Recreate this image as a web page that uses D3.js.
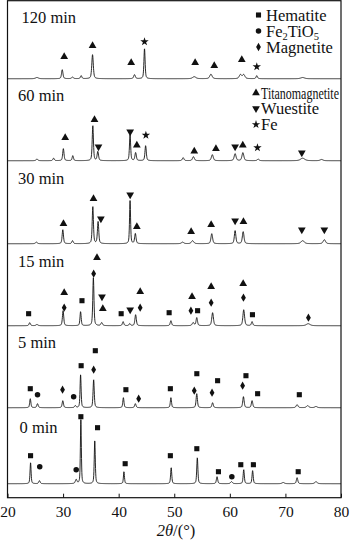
<!DOCTYPE html>
<html><head><meta charset="utf-8">
<script src="https://cdn.jsdelivr.net/npm/d3@7/dist/d3.min.js"></script>
<style>html,body{margin:0;padding:0;background:#fff;}text{font-family:"Liberation Serif","DejaVu Serif",serif;}</style>
</head><body><svg id="c" width="350" height="541" style="display:block"></svg>
<script>
// ---------- data (2θ in degrees, intensity in arbitrary units) ----------
const traceLabels = ["120 min", "60 min", "30 min", "15 min", "5 min", "0 min"];
const traceOffsets = [419, 337, 254, 172, 90, 14];
const xTicks = [20, 30, 40, 50, 60, 70, 80];

// peaks: [2θ, height, FWHM]
const peaks120 = [[25.3,1.2,0.6],[29.85,9,0.3],[31.7,1.5,0.4],[33.25,3,0.3],[35.3,24,0.32],[42.85,4,0.35],[44.65,30,0.25],[53.6,2,0.7],[56.6,4.5,0.5],[61.9,4,0.5],[62.5,4,0.5],[64.85,3,0.3],[73.1,1.2,0.8]];
const peaks60 = [[25.3,1.5,0.4],[28.3,2.5,0.3],[30.05,12,0.28],[31.75,5,0.28],[35.35,35,0.26],[36.25,9,0.3],[42.05,26,0.25],[43.05,8,0.3],[44.85,15,0.28],[51.6,3,0.35],[53.45,4,0.4],[56.85,6,0.4],[60.95,7,0.4],[62.35,8,0.4],[65.1,1.5,0.4],[73.1,2.5,0.9],[76.5,1.2,0.6]];
const peaks30 = [[25.2,1.5,0.4],[29.95,14,0.28],[31.7,3,0.3],[35.35,37,0.26],[36.3,22,0.28],[42.05,43,0.22],[43.0,10,0.3],[51.5,1.5,0.5],[53.3,3,0.5],[56.75,10,0.35],[60.95,13,0.32],[62.4,12,0.35],[73.1,3,0.7],[77.0,4,0.5]];
const peaks15 = [[24.0,3,0.3],[25.3,1.2,0.4],[30.0,15,0.28],[33.15,14,0.25],[35.45,48,0.25],[36.95,3,0.35],[40.8,4,0.3],[42.0,2,0.3],[43.05,11,0.3],[49.4,5,0.3],[53.4,3,0.4],[54.05,8,0.3],[56.9,13,0.35],[62.5,16,0.35],[64.0,4,0.3],[74.1,2,0.8]];
const peaks5 = [[24.1,9,0.25],[25.4,4,0.3],[29.95,7,0.28],[32.2,2,0.3],[33.15,33,0.22],[35.5,28,0.25],[40.85,10,0.25],[43.0,4,0.3],[49.4,10,0.25],[54.05,14,0.28],[56.9,5,0.3],[62.45,11,0.3],[64.0,7,0.3],[72.1,3,0.4],[74.0,2,0.5],[75.5,1.2,0.5]];
const peaks0 = [[24.15,21,0.22],[25.75,3,0.3],[32.35,4,0.35],[33.2,64,0.2],[35.7,43,0.22],[40.95,12,0.22],[49.45,16,0.24],[54.15,26,0.24],[57.7,7,0.28],[60.3,2,0.4],[62.5,14,0.25],[64.1,13,0.25],[69.6,1.2,0.5],[72.1,6,0.3],[75.5,2,0.5]];
const tracePeaks = [peaks120, peaks60, peaks30, peaks15, peaks5, peaks0];

// phase markers: [phase, 2θ, height above baseline]
// H = Hematite, P = Fe2TiO5, M = Magnetite, T = Titanomagnetite, W = Wuestite, F = Fe
const markers120 = [["T",30.2,22],["T",35.3,33],["T",42.25,16],["F",44.65,37],["T",53.76,16],["T",57.2,13],["T",62.15,19],["F",64.85,12]];
const markers60 = [["T",30.38,23],["T",35.65,41],["W",36.37,14],["W",42.07,29],["T",43.27,15.5],["F",44.9,25.5],["T",53.6,9.5],["T",57.5,12],["W",60.95,14],["T",62.33,15.5],["F",64.97,13],["W",72.95,8]];
const markers30 = [["T",30.07,20],["T",35.47,45],["W",36.8,25],["W",42.07,49],["T",43.27,17],["T",53.04,12],["T",56.64,19],["W",60.95,23],["T",62.45,22],["W",72.95,14],["W",77.0,14]];
const markers15 = [["H",23.8,12],["M",30.2,18],["T",30.2,33],["H",33.4,25],["M",35.5,52],["T",36.1,68],["W",37.0,29],["T",37.15,17],["H",40.45,12],["W",42.07,16],["M",43.87,18],["T",43.87,34],["H",49.08,13],["M",53.0,15],["T",53.2,29],["H",54.2,15],["M",56.64,23],["T",56.64,39],["M",62.45,28],["T",62.4,42],["H",64.07,11],["M",74.14,8]];
const markers5 = [["H",24.1,19],["P",25.4,13],["M",29.9,18],["P",31.9,11],["H",33.25,42],["M",35.5,38],["H",35.8,57],["H",41.3,18],["M",43.6,9],["H",49.3,19],["M",53.6,17],["H",54.06,34],["M",56.8,15],["H",57.8,27],["M",62.3,22],["H",62.9,32],["H",65.0,14],["H",72.5,13]];
const markers0 = [["H",24.15,28],["P",25.8,17],["P",32.36,14],["H",33.2,67],["H",36.2,56],["H",41.17,20],["H",49.3,28],["H",54.06,35],["H",57.95,12],["P",60.36,7],["H",61.97,19],["H",64.24,19],["H",72.3,12]];
const traceMarkers = [markers120, markers60, markers30, markers15, markers5, markers0];

const legend1 = [["H","Hematite"],["P","Fe2TiO5"],["M","Magnetite"]];
const legend2 = [["T","Titanomagnetite"],["W","Wuestite"],["F","Fe"]];

// ---------- drawing ----------
const svg = d3.select("#c");
const FONT = "Liberation Serif, DejaVu Serif, serif";
const FS = 16.5;
const L = 7.5, R = 341, T = 0.7, B = 497.7;
const x = d3.scaleLinear().domain([20, 80]).range([L, R]);
const y = d3.scaleLinear().domain([0, 497]).range([B, T]);
const ink = "#111";

const symbolFor = {
  H: {type: d3.symbolSquare, size: 26, rot: 0},
  P: {type: d3.symbolCircle, size: 24, rot: 0},
  M: {type: d3.symbolDiamond, size: 20, rot: 0},
  T: {type: d3.symbolTriangle, size: 26, rot: 0},
  W: {type: d3.symbolTriangle, size: 26, rot: 180},
  F: {type: d3.symbolStar, size: 22, rot: 0}
};
function sym(k) { return d3.symbol().type(symbolFor[k].type).size(symbolFor[k].size)(); }

function profile(t, p) {
  const c = p[0], h = p[1], w = p[2] || 0.3;
  const d = (t - c) / (w / 2);
  return h * (0.5 / (1 + d * d) + 0.5 * Math.exp(-Math.LN2 * d * d));
}
const grid = d3.range(20, 80.0001, 0.03);

const line = d3.line().x(d => x(d[0])).y(d => y(d[1]));

traceLabels.forEach((lab, i) => {
  const off = traceOffsets[i];
  const pts = grid.map(t => [t, off + d3.sum(tracePeaks[i], p => profile(t, p))]);
  svg.append("path").attr("d", line(pts)).attr("fill", "none")
    .attr("stroke", ink).attr("stroke-width", 0.9).attr("stroke-linejoin", "round");
  traceMarkers[i].forEach(m => {
    svg.append("path").attr("d", sym(m[0]))
      .attr("transform", `translate(${x(m[1])},${y(off + m[2])}) rotate(${symbolFor[m[0]].rot})`)
      .attr("fill", ink);
  });
});

// trace labels (layout)
const labelPos = [[21.5, 22.5], [18, 100.5], [18, 183.5], [18, 266.5], [18, 348], [19.5, 433]];
traceLabels.forEach((lab, i) => {
  svg.append("text").attr("x", labelPos[i][0]).attr("y", labelPos[i][1])
    .attr("font-family", FONT).attr("font-size", FS).attr("fill", ink).text(lab);
});

// legends
function legendText(t, txt) {
  if (txt === "Fe2TiO5") {
    t.append("tspan").text("Fe");
    t.append("tspan").attr("font-size", 10.5).attr("dy", 3).text("2");
    t.append("tspan").attr("dy", -3).text("TiO");
    t.append("tspan").attr("font-size", 10.5).attr("dy", 3).text("5");
  } else t.text(txt);
}
const leg1Y = [20.5, 36.5, 52.5];
legend1.forEach((e, i) => {
  svg.append("path").attr("d", sym(e[0])).attr("transform", `translate(258.5,${leg1Y[i] - 5.5})`).attr("fill", ink);
  legendText(svg.append("text").attr("x", 266).attr("y", leg1Y[i]).attr("font-family", FONT)
    .attr("font-size", FS).attr("fill", ink), e[1]);
});
const leg2Y = [98.5, 114, 130];
legend2.forEach((e, i) => {
  svg.append("path").attr("d", sym(e[0])).attr("transform", `translate(256,${leg2Y[i] - 5.5}) rotate(${symbolFor[e[0]].rot})`).attr("fill", ink);
  const t = svg.append("text").attr("x", 261).attr("y", leg2Y[i]).attr("font-family", FONT)
    .attr("font-size", FS).attr("fill", ink);
  legendText(t, e[1]);
  if (e[1] === "Titanomagnetite") t.attr("textLength", 78).attr("lengthAdjust", "spacingAndGlyphs");
});

// axis
const ax = svg.append("g").attr("transform", `translate(0,${B})`)
  .call(d3.axisBottom(x).tickValues(xTicks).tickSizeInner(-4).tickSizeOuter(0).tickFormat(d3.format("d")));
ax.attr("font-family", FONT);
ax.select(".domain").remove();
ax.selectAll(".tick line").attr("stroke", ink).attr("stroke-width", 1);
ax.selectAll(".tick text").attr("y", 19.5).attr("dy", 0).attr("font-size", 15.5)
  .attr("font-family", FONT).attr("fill", ink);

// frame
svg.append("rect").attr("x", L).attr("y", T).attr("width", R - L).attr("height", B - T)
  .attr("fill", "none").attr("stroke", ink).attr("stroke-width", 1.2);

// axis title
const tt = svg.append("text").attr("x", 176).attr("y", 536).attr("text-anchor", "middle")
  .attr("font-family", FONT).attr("font-size", FS).attr("fill", ink);
tt.append("tspan").attr("font-style", "italic").text("2θ");
tt.append("tspan").text("/(°)");
</script></body></html>
